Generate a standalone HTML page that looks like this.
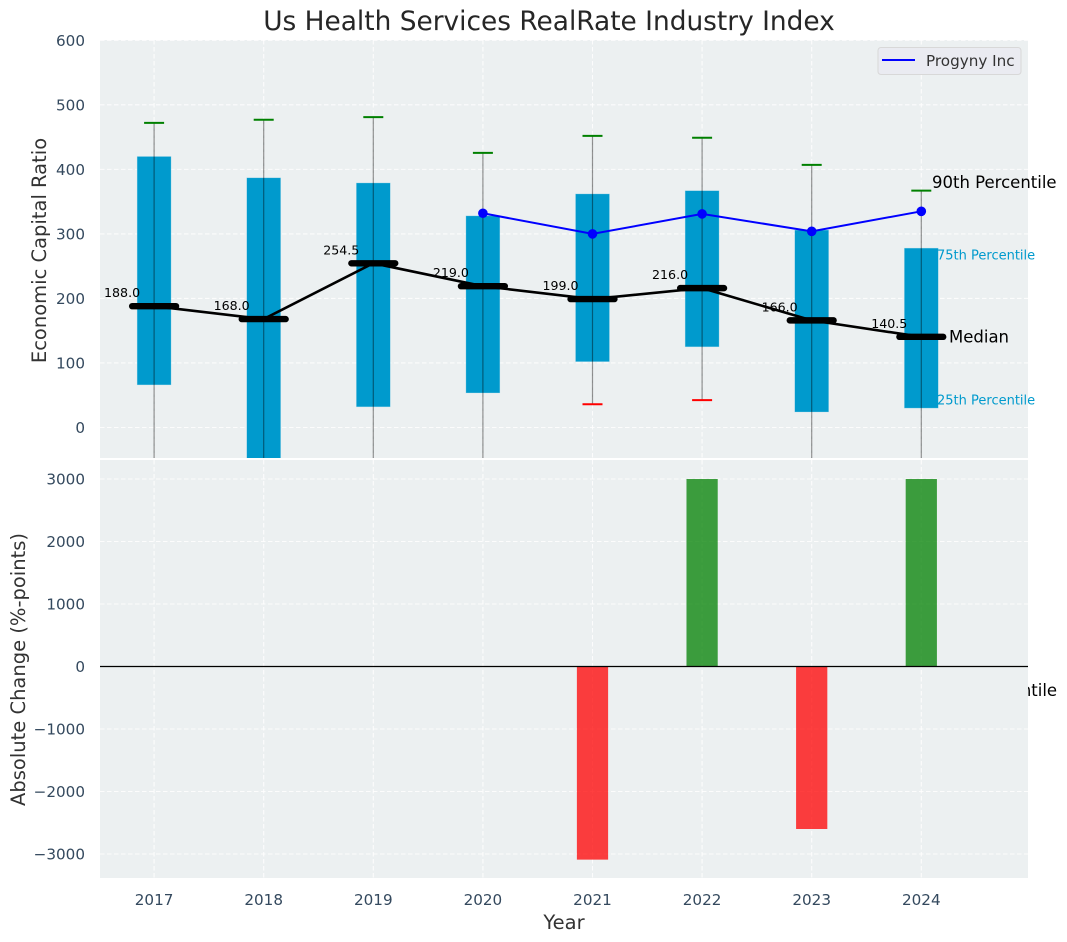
<!DOCTYPE html>
<html lang="en">
<head>
<meta charset="utf-8">
<title>Us Health Services RealRate Industry Index</title>
<style>
html,body{margin:0;padding:0;background:#fff;}
svg{display:block;font-family:"DejaVu Sans","Liberation Sans",sans-serif;}
</style>
</head>
<body>
<svg id="chart" xmlns="http://www.w3.org/2000/svg" width="1067" height="942" viewBox="0 0 1067 942">
  <defs>
    <clipPath id="clip-top"><rect x="100" y="40" width="928" height="418"/></clipPath>
    <clipPath id="clip-bottom"><rect x="100" y="460" width="928" height="418"/></clipPath>
  </defs>
  <rect x="100" y="40" width="928" height="418" fill="#ecf0f1"/>
  <g id="top-grid"></g>
  <g id="top-marks" clip-path="url(#clip-top)"></g>
  <g id="top-overlay"></g>
  <text x="932.5" y="696" font-size="16.5" fill="#000">10th Percentile</text>
  <rect x="100" y="460" width="928" height="418" fill="#ecf0f1"/>
  <g id="bottom-grid"></g>
  <g id="bottom-marks" clip-path="url(#clip-bottom)"></g>
  <g id="tick-labels"></g>
  <text x="549" y="30" font-size="26.4" text-anchor="middle" fill="#262626">Us Health Services RealRate Industry Index</text>
  <text transform="translate(46,250.5) rotate(-90)" font-size="19.5" text-anchor="middle" fill="#333">Economic Capital Ratio</text>
  <text transform="translate(25,669.5) rotate(-90)" font-size="19.5" text-anchor="middle" fill="#333">Absolute Change (%-points)</text>
  <text x="564" y="929" font-size="19.5" text-anchor="middle" fill="#333">Year</text>
  <text x="932" y="188" font-size="16.5" fill="#000">90th Percentile</text>
  <text x="937" y="259.5" font-size="13" fill="#009acd">75th Percentile</text>
  <text x="949" y="342.5" font-size="16.5" fill="#000">Median</text>
  <text x="937" y="404.5" font-size="13" fill="#009acd">25th Percentile</text>
  <g>
    <rect x="878" y="47.5" width="143" height="27" rx="3" fill="#eaebf1" stroke="#d8d8d8"/>
    <line x1="882" y1="60" x2="915" y2="60" stroke="#0000ff" stroke-width="2"/>
    <text x="926" y="66" font-size="15.2" fill="#333">Progyny Inc</text>
  </g>
</svg>
<script>
const years = [2017, 2018, 2019, 2020, 2021, 2022, 2023, 2024];
const box75 = [420, 387, 379, 328, 362, 367, 306, 278];
const box25 = [66, -60, 32, 53.5, 102, 125, 24, 30];
const whiskerHigh = [472, 477, 481, 425.5, 452, 449, 407, 367];
const whiskerLow = [-120, -120, -120, -120, 36, 42.5, -120, -120];
const medians = [188, 168, 254.5, 219, 199, 216, 166, 140.5];
const progynyYears = [2020, 2021, 2022, 2023, 2024];
const progynyValues = [332, 300, 331, 304, 335];
const changeYears = [2021, 2022, 2023, 2024];
const changeValues = [-3090, 3000, -2600, 3000];
const topTicks = [0, 100, 200, 300, 400, 500, 600];
const bottomTicks = [-3000, -2000, -1000, 0, 1000, 2000, 3000];

const NS = 'http://www.w3.org/2000/svg';
const xScale = v => 154.1 + (v - 2017) * 109.6;
const xSpan = w => w * 109.6;
const yTop = v => 427.5 - v * 0.6453;
const yBottom = v => 666.5 - v * 0.0625;

const topGrid = document.getElementById('top-grid');
const topMarks = document.getElementById('top-marks');
const topOverlay = document.getElementById('top-overlay');
const bottomGrid = document.getElementById('bottom-grid');
const bottomMarks = document.getElementById('bottom-marks');
const tickLabels = document.getElementById('tick-labels');

function mk(tag, attrs, parent, text) {
  const node = document.createElementNS(NS, tag);
  for (const k in attrs) node.setAttribute(k, attrs[k]);
  if (text !== undefined) node.textContent = text;
  parent.appendChild(node);
  return node;
}
const gridStyle = {stroke: '#ffffff', 'stroke-width': 1.1, 'stroke-dasharray': '4.5 2.5', opacity: 0.85};
const fmtTick = v => (v < 0 ? '\u2212' + Math.abs(v) : String(v));

topTicks.forEach(t => {
  let el = mk('line', {x1: 100, x2: 1028, y1: yTop(t), y2: yTop(t), ...gridStyle}, topGrid);
  
  
  el = mk('text', {x: 85, y: yTop(t) + 5.5, 'font-size': 15.2, 'text-anchor': 'end', fill: '#34495e'}, tickLabels, fmtTick(t));
  
  
});

bottomTicks.forEach(t => {
  let el = mk('line', {x1: 100, x2: 1028, y1: yBottom(t), y2: yBottom(t), ...gridStyle}, bottomGrid);
  
  
  el = mk('text', {x: 85, y: yBottom(t) + 5.5, 'font-size': 15.2, 'text-anchor': 'end', fill: '#34495e'}, tickLabels, fmtTick(t));
  
  
});

years.forEach(y => {
  let el = mk('line', {x1: xScale(y), x2: xScale(y), y1: 40, y2: 458, ...gridStyle}, topGrid);
  
  
  el = mk('line', {x1: xScale(y), x2: xScale(y), y1: 460, y2: 878, ...gridStyle}, bottomGrid);
  
  
  el = mk('text', {x: xScale(y), y: 905, 'font-size': 15.2, 'text-anchor': 'middle', fill: '#34495e'}, tickLabels, String(y));
  
  
});

years.forEach((y, i) => {
  const x = xScale(y);
  const half = xSpan(0.31) / 2;
  const top = yTop(box75[i]);
  const bottom = yTop(box25[i]);
  const box = mk('rect', {x: x - half, y: top, width: half * 2, height: bottom - top, fill: '#009acd', stroke: '#b9e2f0', 'stroke-opacity': 0.5, 'stroke-width': 0.6}, topMarks);
  
  
  const whisker = mk('line', {x1: x, x2: x, y1: yTop(whiskerHigh[i]), y2: yTop(whiskerLow[i]), stroke: '#000', 'stroke-opacity': 0.42, 'stroke-width': 1.2}, topMarks);
  
  
  const capHigh = mk('line', {x1: x - 10, x2: x + 10, y1: yTop(whiskerHigh[i]), y2: yTop(whiskerHigh[i]), stroke: '#008000', 'stroke-width': 2}, topMarks);
  
  
  const capLow = mk('line', {x1: x - 10, x2: x + 10, y1: yTop(whiskerLow[i]), y2: yTop(whiskerLow[i]), stroke: '#ff0000', 'stroke-width': 2}, topMarks);
  
  
});

const medianPath = mk('polyline', {points: years.map((y, i) => xScale(y) + ',' + yTop(medians[i])).join(' '), fill: 'none', stroke: '#000', 'stroke-width': 2.6}, topMarks);



years.forEach((y, i) => {
  const x = xScale(y);
  const bar = mk('line', {x1: x - xSpan(0.2), x2: x + xSpan(0.2), y1: yTop(medians[i]), y2: yTop(medians[i]), stroke: '#000', 'stroke-width': 6.4, 'stroke-linecap': 'round'}, topMarks);
  
  
  const label = mk('text', {x: x - 14, y: yTop(medians[i]) - 9, 'font-size': 12.6, 'text-anchor': 'end', fill: '#000'}, topOverlay, medians[i].toFixed(1));
  
  
});

const progynyLine = mk('polyline', {points: progynyYears.map((y, i) => xScale(y) + ',' + yTop(progynyValues[i])).join(' '), fill: 'none', stroke: '#0000ff', 'stroke-width': 2}, topMarks);



progynyYears.forEach((y, i) => {
  const dot = mk('circle', {cx: xScale(y), cy: yTop(progynyValues[i]), r: 4.8, fill: '#0000ff'}, topMarks);
  
  
});

changeYears.forEach((y, i) => {
  const v = changeValues[i];
  const half = xSpan(0.285) / 2;
  const top = Math.min(yBottom(v), yBottom(0));
  const h = Math.abs(yBottom(v) - yBottom(0));
  const bar = mk('rect', {x: xScale(y) - half, y: top, width: half * 2, height: h, fill: v >= 0 ? '#008000' : '#ff0000', 'fill-opacity': 0.75}, bottomMarks);
  
  
});

const zero = mk('line', {x1: 100, x2: 1028, y1: yBottom(0), y2: yBottom(0), stroke: '#000', 'stroke-width': 1.2}, bottomMarks);


</script>
</body>
</html>
